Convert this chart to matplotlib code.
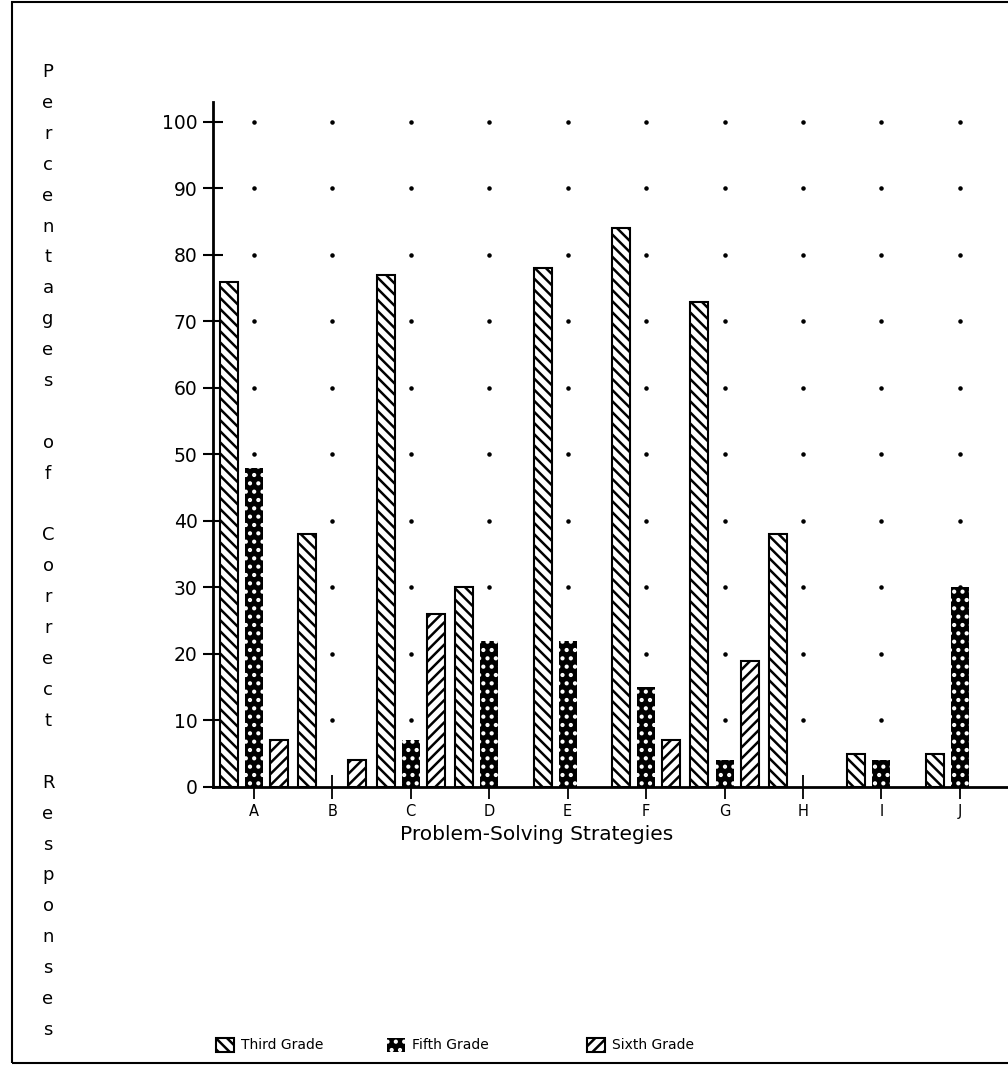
import numpy as np
import matplotlib
matplotlib.use("Agg")
import matplotlib.pyplot as plt
from matplotlib.patches import Rectangle

# data
strategies = ["A", "B", "C", "D", "E", "F", "G", "H", "I", "J"]
third_grade = [76, 38, 77, 30, 78, 84, 73, 38, 5, 5]
fifth_grade = [48, 0, 7, 22, 22, 15, 4, 0, 4, 30]
sixth_grade = [7, 4, 26, 0, 0, 7, 19, 0, 0, 0]
series_names = ["Third Grade", "Fifth Grade", "Sixth Grade"]
y_ticks = [0, 10, 20, 30, 40, 50, 60, 70, 80, 90, 100]
y_label = "Percentages of Correct Responses"
x_label = "Problem-Solving Strategies"

plt.rcParams["font.family"] = ["DejaVu Sans"]
plt.rcParams["hatch.linewidth"] = 1.8

W, H = 1008, 1070
fig = plt.figure(figsize=(W / 100, H / 100), dpi=100)
ax = fig.add_axes([213 / W, 1 - 787 / H, (1007 - 213) / W, (787 - 102) / H])

x = np.arange(len(strategies))
width = 0.23
offset = 0.32

def masked(vals):
    return [v if v > 0 else np.nan for v in vals]

b3 = ax.bar(x - offset, masked(third_grade), width, facecolor="white",
            edgecolor="black", hatch="\\\\\\", linewidth=1.5, label=series_names[0], zorder=3)
b5 = ax.bar(x, masked(fifth_grade), width, facecolor="black",
            edgecolor="white", hatch="..", linewidth=0, label=series_names[1], zorder=3)
b6 = ax.bar(x + offset, masked(sixth_grade), width, facecolor="white",
            edgecolor="black", hatch="///", linewidth=1.5, label=series_names[2], zorder=3)

# dotted grid at every category / every 10 %
gx, gy = np.meshgrid(x, y_ticks[1:])
ax.scatter(gx.ravel(), gy.ravel(), s=5, color="black", zorder=2)

ax.set_xlim(-0.52, 9.6)
ax.set_ylim(0, 103)
ax.set_yticks(y_ticks)
ax.set_xticks(x)
ax.set_xticklabels(strategies, fontsize=10.5)
ax.tick_params(axis="y", direction="inout", length=14, width=1.5, labelsize=13.5, pad=4)
ax.tick_params(axis="x", direction="inout", length=17, width=1.3, pad=4)

for s in ["top", "right"]:
    ax.spines[s].set_visible(False)
ax.spines["left"].set_linewidth(2)
ax.spines["bottom"].set_linewidth(2)

fig.text(537 / W, 1 - 835 / H, x_label, fontsize=14.5, ha="center", va="center")

# stacked vertical y-axis label
y0, dy = 72, 30.9
for i, ch in enumerate(y_label):
    if ch != " ":
        fig.text(48 / W, 1 - (y0 + i * dy) / H, ch, fontsize=13, ha="center", va="center")

# legend entries sit at uneven spacing in the original
for bars, name, lx in zip([b3, b5, b6], series_names, [210, 381, 581]):
    leg = fig.legend([bars], [name], loc="center left",
                     bbox_to_anchor=(lx / W, 1 - 1045 / H), frameon=False,
                     fontsize=10, handlelength=1.3, handleheight=1.2,
                     handletextpad=0.5, borderaxespad=0)

# frame round the figure
fig.patches.append(Rectangle((12 / W, 1 - 1063 / H), 1.2, (1063 - 2) / H,
                             transform=fig.transFigure, fill=False,
                             edgecolor="black", linewidth=1.5))

fig.savefig("out.png", dpi=100)
